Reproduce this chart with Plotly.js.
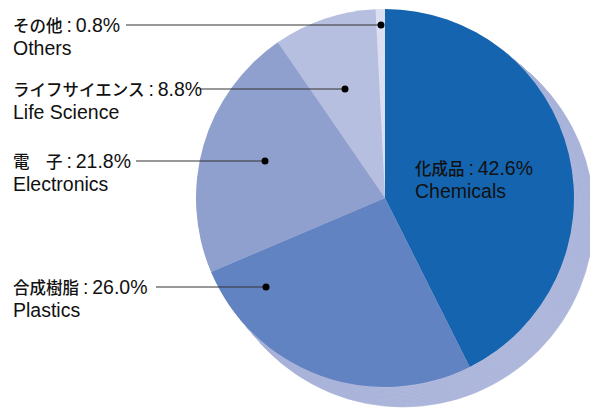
<!DOCTYPE html>
<html>
<head>
<meta charset="utf-8">
<script src="https://cdn.plot.ly/plotly-3.0.1.min.js"></script>
<style>
html,body{margin:0;padding:0;overflow:hidden;background:#fff;}
#chart{width:600px;height:412px;}
</style>
</head>
<body>
<div id="chart"></div>
<script>
// ---- data ----
const categoriesJa = ["化成品", "合成樹脂", "電\u3000子", "ライフサイエンス", "その他"];
const categoriesEn = ["Chemicals", "Plastics", "Electronics", "Life Science", "Others"];
const shares = [42.6, 26.0, 21.8, 8.8, 0.8];
const sliceColors = ["#1464af", "#6283c2", "#8fa0cf", "#b6bfdf", "#dcdff0"];

// label layout (pixels): [text left x, line y, line start x, dot x]
const labelX = [415, 13, 13, 13, 13];
const labelY = [168, 287, 161, 89, 25];
const lineStartX = [null, 156, 136, 200, 126];
const dotX = [null, 266, 265, 345, 381];

// ---- geometry ----
const W = 600, H = 412;
const cx = 385, cy = 198, r = 189;
const shadowDX = 18, shadowDY = 18, shadowR = 191;
const textPad = 2;
const px = x => x / W;
const py = y => 1 - y / H;
function domainFor(x, y, rad) {
  return {x: [px(x - rad), px(x + rad)], y: [py(y + rad), py(y - rad)]};
}

const traces = [];
// extrusion shadow: stacked offset disks
const nSteps = 16;
for (let k = nSteps; k >= 1; k--) {
  const t = k / nSteps;
  traces.push({
    type: "pie",
    values: [1],
    marker: {colors: ["#b3bbdd"], line: {color: "#a0acd6", width: 0.5}},
    textinfo: "none",
    hoverinfo: "skip",
    sort: false,
    showlegend: false,
    domain: domainFor(cx + shadowDX * t, cy + shadowDY * t, r + (shadowR - r) * t)
  });
}

// main pie
traces.push({
  type: "pie",
  values: shares,
  labels: categoriesEn,
  marker: {colors: sliceColors, line: {width: 0}},
  textinfo: "none",
  hoverinfo: "label+percent",
  sort: false,
  direction: "clockwise",
  rotation: 0,
  showlegend: false,
  domain: domainFor(cx, cy, r)
});

const jaFont = "Noto Sans CJK JP";
function jaLine(i) {
  return '<span style="font-family:\'' + jaFont + '\';font-size:16.5px;font-weight:500">' +
    categoriesJa[i] + '</span>\u2009:\u2009' + shares[i].toFixed(1) + '%';
}

const annotations = [];
const shapes = [];
for (let i = 0; i < shares.length; i++) {
  annotations.push({
    xref: "paper", yref: "paper", x: px(labelX[i] - textPad), y: py(labelY[i]),
    xanchor: "left", yanchor: "middle", showarrow: false,
    text: jaLine(i), font: {family: "Liberation Sans, Arial, sans-serif", size: 19.5, color: "#111"}
  });
  annotations.push({
    xref: "paper", yref: "paper", x: px(labelX[i] - textPad), y: py(labelY[i] + 23),
    xanchor: "left", yanchor: "middle", showarrow: false,
    text: categoriesEn[i], font: {family: "Liberation Sans, Arial, sans-serif", size: 19.5, color: "#111"}
  });
  if (lineStartX[i] !== null) {
    shapes.push({
      type: "line", xref: "paper", yref: "paper",
      x0: px(lineStartX[i]), x1: px(dotX[i]), y0: py(labelY[i]), y1: py(labelY[i]),
      line: {color: "#333", width: 1}
    });
    const d = 3.5;
    shapes.push({
      type: "circle", xref: "paper", yref: "paper",
      x0: px(dotX[i] - d), x1: px(dotX[i] + d), y0: py(labelY[i] + d), y1: py(labelY[i] - d),
      fillcolor: "#000", line: {width: 0}
    });
  }
}

Plotly.newPlot("chart", traces, {
  width: W, height: H,
  margin: {l: 0, r: 0, t: 0, b: 0},
  paper_bgcolor: "#fff",
  showlegend: false,
  annotations: annotations,
  shapes: shapes
}, {displayModeBar: false, staticPlot: true});
</script>
</body>
</html>
